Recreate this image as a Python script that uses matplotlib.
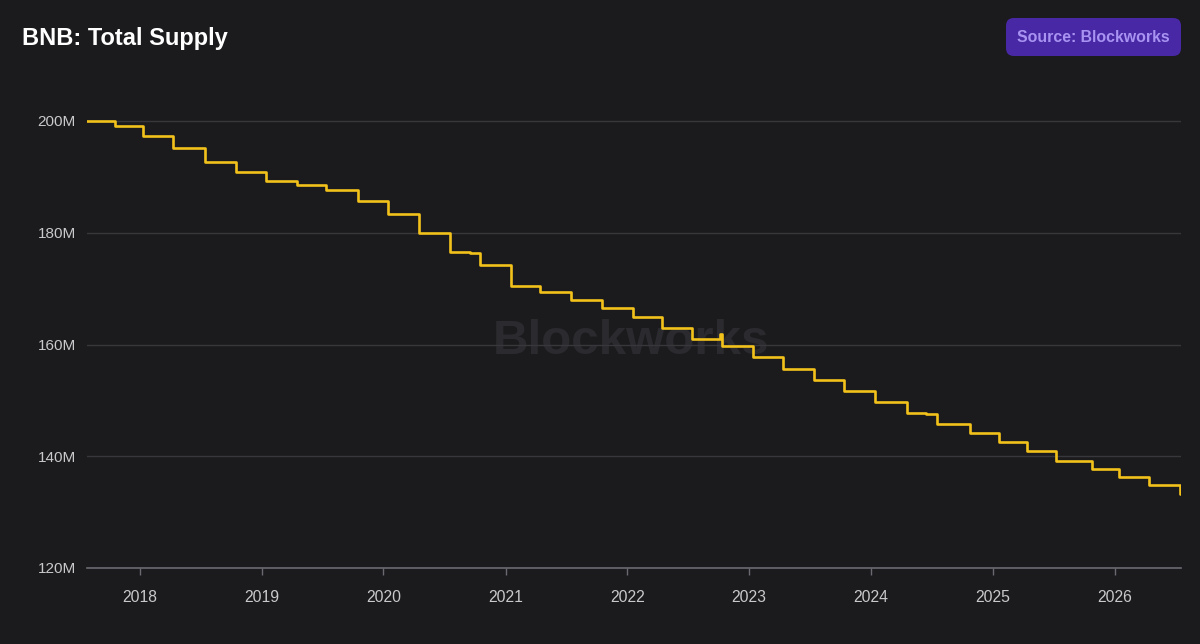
import matplotlib
matplotlib.use("Agg")
import matplotlib.pyplot as plt
from matplotlib.patches import FancyBboxPatch
import numpy as np
import pandas as pd

# ---- data ----
dates = ["2017-07-27", "2017-10-18", "2018-01-12", "2018-04-12", "2018-07-16",
         "2018-10-16", "2019-01-15", "2019-04-16", "2019-07-12", "2019-10-16",
         "2020-01-15", "2020-04-17", "2020-07-18", "2020-09-17", "2020-10-16",
         "2021-01-16", "2021-04-14", "2021-07-15", "2021-10-16", "2022-01-17",
         "2022-04-14", "2022-07-14", "2022-10-06", "2022-10-12", "2023-01-14",
         "2023-04-12", "2023-07-15", "2023-10-11", "2024-01-12", "2024-04-19",
         "2024-06-13", "2024-07-16", "2024-10-25", "2025-01-20", "2025-04-12",
         "2025-06-01", "2025-07-08", "2025-10-24", "2026-01-14", "2026-04-14",
         "2026-07-14", "2026-07-18"]
supply_m = [200.0, 199.16, 197.3, 195.1, 192.6,
            190.9, 189.3, 188.5, 187.6, 185.6,
            183.3, 180.0, 176.5, 176.3, 174.2,
            170.4, 169.4, 168.0, 166.6, 164.9,
            162.9, 161.0, 161.8, 159.8, 157.7,
            155.7, 153.7, 151.6, 149.7, 147.7,
            147.5, 145.8, 144.1, 142.5, 141.0,
            140.9, 139.2, 137.8, 136.3, 134.8,
            133.3, 133.3]
y_ticks = [120, 140, 160, 180, 200]
y_tick_labels = ["120M", "140M", "160M", "180M", "200M"]
x_tick_years = list(range(2018, 2027))

title = "BNB: Total Supply"
source = "Source: Blockworks"

BG = "#1b1b1e"
GRID = "#38383c"
LINE = "#f2c21b"
TXT = "#c9c9cc"

x = pd.to_datetime(dates)

fig = plt.figure(figsize=(12, 6.44), dpi=100, facecolor=BG)
ax = fig.add_axes([87/1200, 76/644, 1094/1200, (545.35-76)/644])
ax.set_facecolor(BG)

ax.step(x, supply_m, where="post", color=LINE, lw=1.9, zorder=3)

ax.set_ylim(120, 204)
ax.set_xlim(pd.Timestamp("2017-07-27"), pd.Timestamp("2026-07-18"))
ax.set_yticks(y_ticks)
ax.set_yticklabels(y_tick_labels)
ax.set_xticks([pd.Timestamp(f"{yr}-01-01") for yr in x_tick_years])
ax.set_xticklabels([str(yr) for yr in x_tick_years])

ax.grid(axis="y", color=GRID, lw=1)
ax.grid(axis="x", visible=False)
for s in ["top", "right", "left"]:
    ax.spines[s].set_visible(False)
ax.spines["bottom"].set_color("#6a6a70")
ax.spines["bottom"].set_linewidth(1.2)
ax.tick_params(axis="y", length=0, pad=8, labelsize=11, labelcolor=TXT)
ax.tick_params(axis="x", length=5, width=1, color="#6a6a70", pad=11,
               labelsize=11.3, labelcolor=TXT)
for lab in ax.get_yticklabels() + ax.get_xticklabels():
    lab.set_family("Liberation Sans")

# watermark (figure coordinates)
fig.text(631/1200, 1 - 342/644, "Blockworks", ha="center", va="center",
         fontsize=35.5, fontweight="bold", color="#2b2b2f",
         family="Liberation Sans", zorder=0.5)
ax.set_zorder(1)
ax.patch.set_alpha(0)

# title
fig.text(22/1200, 1 - 38/644, title, ha="left", va="center", fontsize=17,
         fontweight="bold", color="white", family="Liberation Sans")

# source badge
bx0, by0, bw, bh = 1006, 18, 175, 38
badge = FancyBboxPatch((bx0/1200, 1 - (by0 + bh)/644), bw/1200, bh/644,
                       boxstyle="round,pad=0,rounding_size=0.0065",
                       transform=fig.transFigure, facecolor="#4828a4",
                       edgecolor="none", mutation_aspect=1200/644)
fig.patches.append(badge)
fig.text((bx0 + bw/2)/1200, 1 - (by0 + bh/2)/644, source, ha="center", va="center",
         fontsize=11.4, fontweight="bold", color="#a893f2", family="Liberation Sans")

fig.savefig("out.png", dpi=100, facecolor=BG)
